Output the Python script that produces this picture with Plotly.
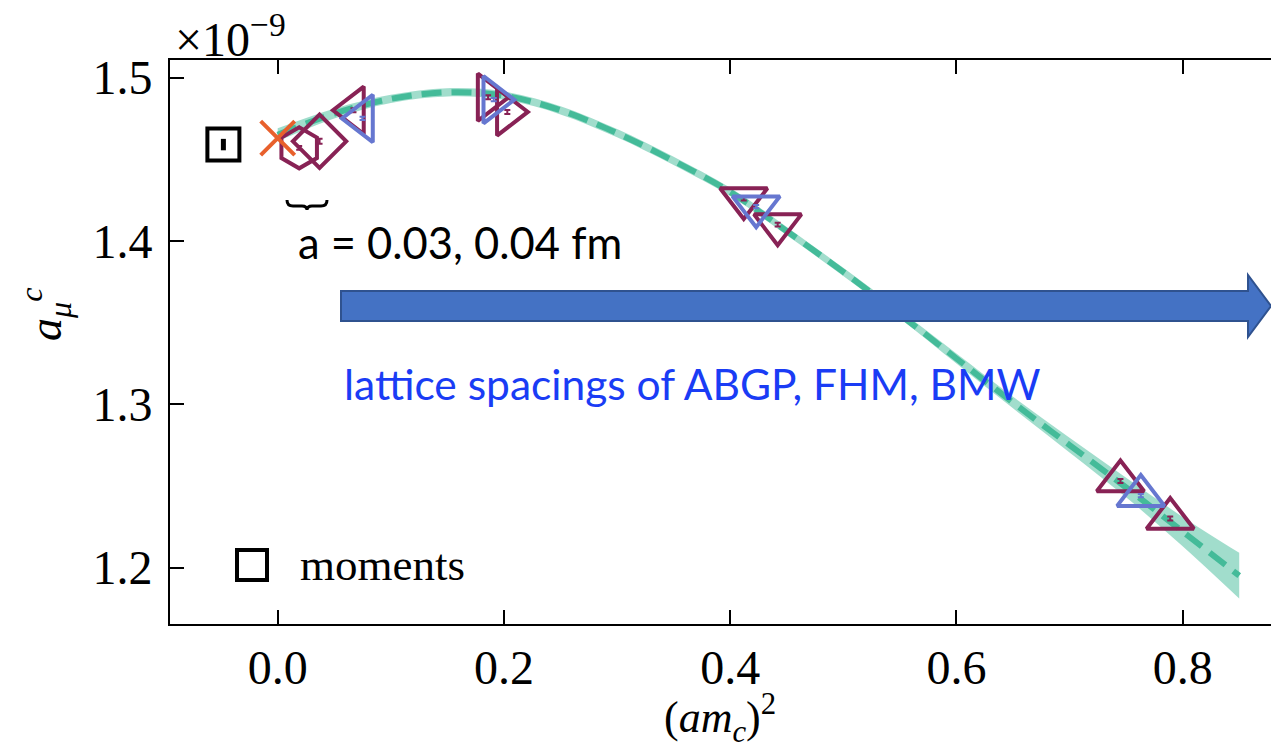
import plotly.graph_objects as go

# ---- data -------------------------------------------------------------
# charm contribution a_mu^c (units of 1e-9) vs (a m_c)^2
moments_x = [-0.048]
moments_y = [1.459]
moments_err = [0.0035]

cont_x = [0.0]
cont_y = [1.463]

# ensemble set A (wine)
setA_x = [0.019, 0.067, 0.186, 0.412, 0.745]
setA_y = [1.457, 1.480, 1.488, 1.426, 1.253]
setA_err = [0.0012, 0.0012, 0.0012, 0.0012, 0.0012]
setA_sym = ["hexagon-open", "triangle-left-open", "triangle-right-open",
            "triangle-down-open", "triangle-up-open"]

# ensemble set B (blue)
setB_x = [0.075, 0.191, 0.423, 0.763]
setB_y = [1.475, 1.4865, 1.421, 1.244]
setB_err = [0.0010, 0.0010, 0.0010, 0.0010]
setB_sym = ["triangle-left-open", "triangle-right-open",
            "triangle-down-open", "triangle-up-open"]

# ensemble set C (wine)
setC_x = [0.037, 0.203, 0.442, 0.789]
setC_y = [1.461, 1.479, 1.410, 1.230]
setC_err = [0.0015, 0.0012, 0.0012, 0.0012]
setC_sym = ["diamond-open", "triangle-right-open",
            "triangle-down-open", "triangle-up-open"]

# continuum fit curve and its error band
fit_x = [0.0, 0.05, 0.10, 0.15, 0.20, 0.25, 0.30, 0.35, 0.40, 0.45,
         0.50, 0.55, 0.60, 0.65, 0.70, 0.75, 0.80, 0.85]
fit_y = [1.465, 1.478, 1.487, 1.491, 1.489, 1.480, 1.466, 1.449, 1.430, 1.406,
         1.381, 1.355, 1.328, 1.301, 1.275, 1.249, 1.222, 1.195]
fit_err = [0.004, 0.003, 0.0025, 0.0025, 0.0025, 0.0025, 0.0025, 0.0025, 0.0025, 0.0025,
           0.0025, 0.0025, 0.003, 0.0035, 0.0045, 0.006, 0.009, 0.014]

x_ticks = [0.0, 0.2, 0.4, 0.6, 0.8]
y_ticks = [1.2, 1.3, 1.4, 1.5]

WINE = "#882255"
BLUE = "#6677D0"
TEAL = "#44BB99"
ORANGE = "#E8602C"

# ---- geometry helpers for decorations (pixel -> paper) ----------------
W, H = 1271, 750
L, R, T, B = 170, 0, 60, 126
PW, PH = W - L - R, H - T - B


def px(x):
    return (x - L) / PW


def py(y):
    return (H - B - y) / PH


fig = go.Figure()

# error band of the fit
lo = [y - e for y, e in zip(fit_y, fit_err)]
hi = [y + e for y, e in zip(fit_y, fit_err)]
fig.add_trace(go.Scatter(x=fit_x, y=lo, mode="lines", line=dict(width=0, shape="spline"),
                         hoverinfo="skip", showlegend=False))
fig.add_trace(go.Scatter(x=fit_x, y=hi, mode="lines", line=dict(width=0, shape="spline"),
                         fill="tonexty", fillcolor="rgba(68,187,153,0.5)",
                         hoverinfo="skip", showlegend=False))
# central fit value
fig.add_trace(go.Scatter(x=fit_x, y=fit_y, mode="lines",
                         line=dict(color=TEAL, width=6, dash="20px,10px", shape="spline"),
                         showlegend=False))

# moments result
fig.add_trace(go.Scatter(
    x=moments_x, y=moments_y, mode="markers", name="moments",
    marker=dict(symbol="square-open", size=32, color="black", line=dict(width=4)),
    error_y=dict(type="data", array=moments_err, thickness=5, width=0, color="black"),
    showlegend=False))

# lattice ensembles
for xs, ys, es, syms, col in [(setA_x, setA_y, setA_err, setA_sym, WINE),
                              (setC_x, setC_y, setC_err, setC_sym, WINE),
                              (setB_x, setB_y, setB_err, setB_sym, BLUE)]:
    fig.add_trace(go.Scatter(
        x=xs, y=ys, mode="markers",
        marker=dict(symbol=syms, size=41, color=col, line=dict(width=4)),
        error_y=dict(type="data", array=es, thickness=2, width=3, color=col),
        showlegend=False))

# continuum limit
fig.add_trace(go.Scatter(
    x=cont_x, y=cont_y, mode="markers",
    marker=dict(symbol="x-thin-open", size=34, color=ORANGE, line=dict(width=4, color=ORANGE)),
    showlegend=False))

# ---- decorations ------------------------------------------------------
shapes = []
# block arrow
ax0, ax1, atip = 341, 1248, 1271
ay0, ay1, hy0, hy1 = 291, 321, 275, 337
aym = (ay0 + ay1) / 2
arrow = (f"M {px(ax0)},{py(ay0)} L {px(ax1)},{py(ay0)} L {px(ax1)},{py(hy0)} "
         f"L {px(atip)},{py(aym)} L {px(ax1)},{py(hy1)} L {px(ax1)},{py(ay1)} "
         f"L {px(ax0)},{py(ay1)} Z")
shapes.append(dict(type="path", xref="paper", yref="paper", path=arrow,
                   fillcolor="#4472C4", line=dict(color="#2F528F", width=2), layer="above"))

# horizontal curly brace under the finest ensembles
bx0, bx1, by0, by1 = 287, 327, 200, 210
bm = (bx0 + bx1) / 2
bmid = (by0 + by1) / 2 + 1
brace = (f"M {px(bx0)},{py(by0)} Q {px(bx0)},{py(bmid)} {px(bx0 + 6)},{py(bmid)} "
         f"L {px(bm - 5)},{py(bmid)} Q {px(bm)},{py(bmid)} {px(bm)},{py(by1)} "
         f"Q {px(bm)},{py(bmid)} {px(bm + 5)},{py(bmid)} "
         f"L {px(bx1 - 6)},{py(bmid)} Q {px(bx1)},{py(bmid)} {px(bx1)},{py(by0)}")
shapes.append(dict(type="path", xref="paper", yref="paper", path=brace,
                   line=dict(color="black", width=3)))

# legend key
shapes.append(dict(type="rect", xref="paper", yref="paper",
                   x0=px(237), x1=px(267), y0=py(580), y1=py(550),
                   line=dict(color="black", width=4), fillcolor="rgba(0,0,0,0)"))

serif = "Liberation Serif"
annotations = [
    dict(text="moments", xref="paper", yref="paper", x=px(298), y=py(565),
         xanchor="left", yanchor="middle", showarrow=False,
         font=dict(family=serif, size=45, color="black")),
    dict(text="×10<sup>−9</sup>", xref="paper", yref="paper", x=px(173), y=py(36),
         xanchor="left", yanchor="middle", showarrow=False,
         font=dict(family=serif, size=48, color="black")),
    dict(text="a = 0.03, 0.04 fm", xref="paper", yref="paper", x=px(296), y=py(242),
         xanchor="left", yanchor="middle", showarrow=False,
         font=dict(family="Lato", size=43.5, color="black")),
    dict(text="lattice spacings of ABGP, FHM, BMW", xref="paper", yref="paper",
         x=px(342), y=py(383), xanchor="left", yanchor="middle", showarrow=False,
         font=dict(family="Lato", size=42.5, color="#1A3CF5")),
    dict(text="<i>a</i><sub><i>μ</i></sub><sup><i>c</i></sup>", xref="paper", yref="paper",
         x=px(45), y=py(315), xanchor="center", yanchor="middle", textangle=-90,
         showarrow=False, font=dict(family=serif, size=46, color="black")),
    dict(text="(<i>am</i><sub><i>c</i></sub>)<sup>2</sup>", xref="paper", yref="paper",
         x=px(720), y=py(718), xanchor="center", yanchor="middle",
         showarrow=False, font=dict(family=serif, size=44, color="black")),
]

fig.update_layout(
    width=W, height=H,
    margin=dict(l=L, r=R, t=T, b=B),
    paper_bgcolor="white", plot_bgcolor="white",
    shapes=shapes, annotations=annotations,
    showlegend=False,
    font=dict(family=serif, size=46, color="black"),
)
fig.update_xaxes(range=[-0.0952, 0.8781], tickvals=x_ticks, tickformat=".1f",
                 ticks="inside", ticklen=14, tickwidth=2, tickcolor="black",
                 showline=True, linecolor="black", linewidth=2, mirror="ticks",
                 showgrid=False, zeroline=False,
                 tickfont=dict(family=serif, size=48))
fig.update_yaxes(range=[1.1654, 1.5108], tickvals=y_ticks, tickformat=".1f",
                 ticks="inside", ticklen=14, tickwidth=2, tickcolor="black",
                 showline=True, linecolor="black", linewidth=2,
                 showgrid=False, zeroline=False, ticklabelstandoff=6,
                 tickfont=dict(family=serif, size=48))

fig.write_html("out.html")
